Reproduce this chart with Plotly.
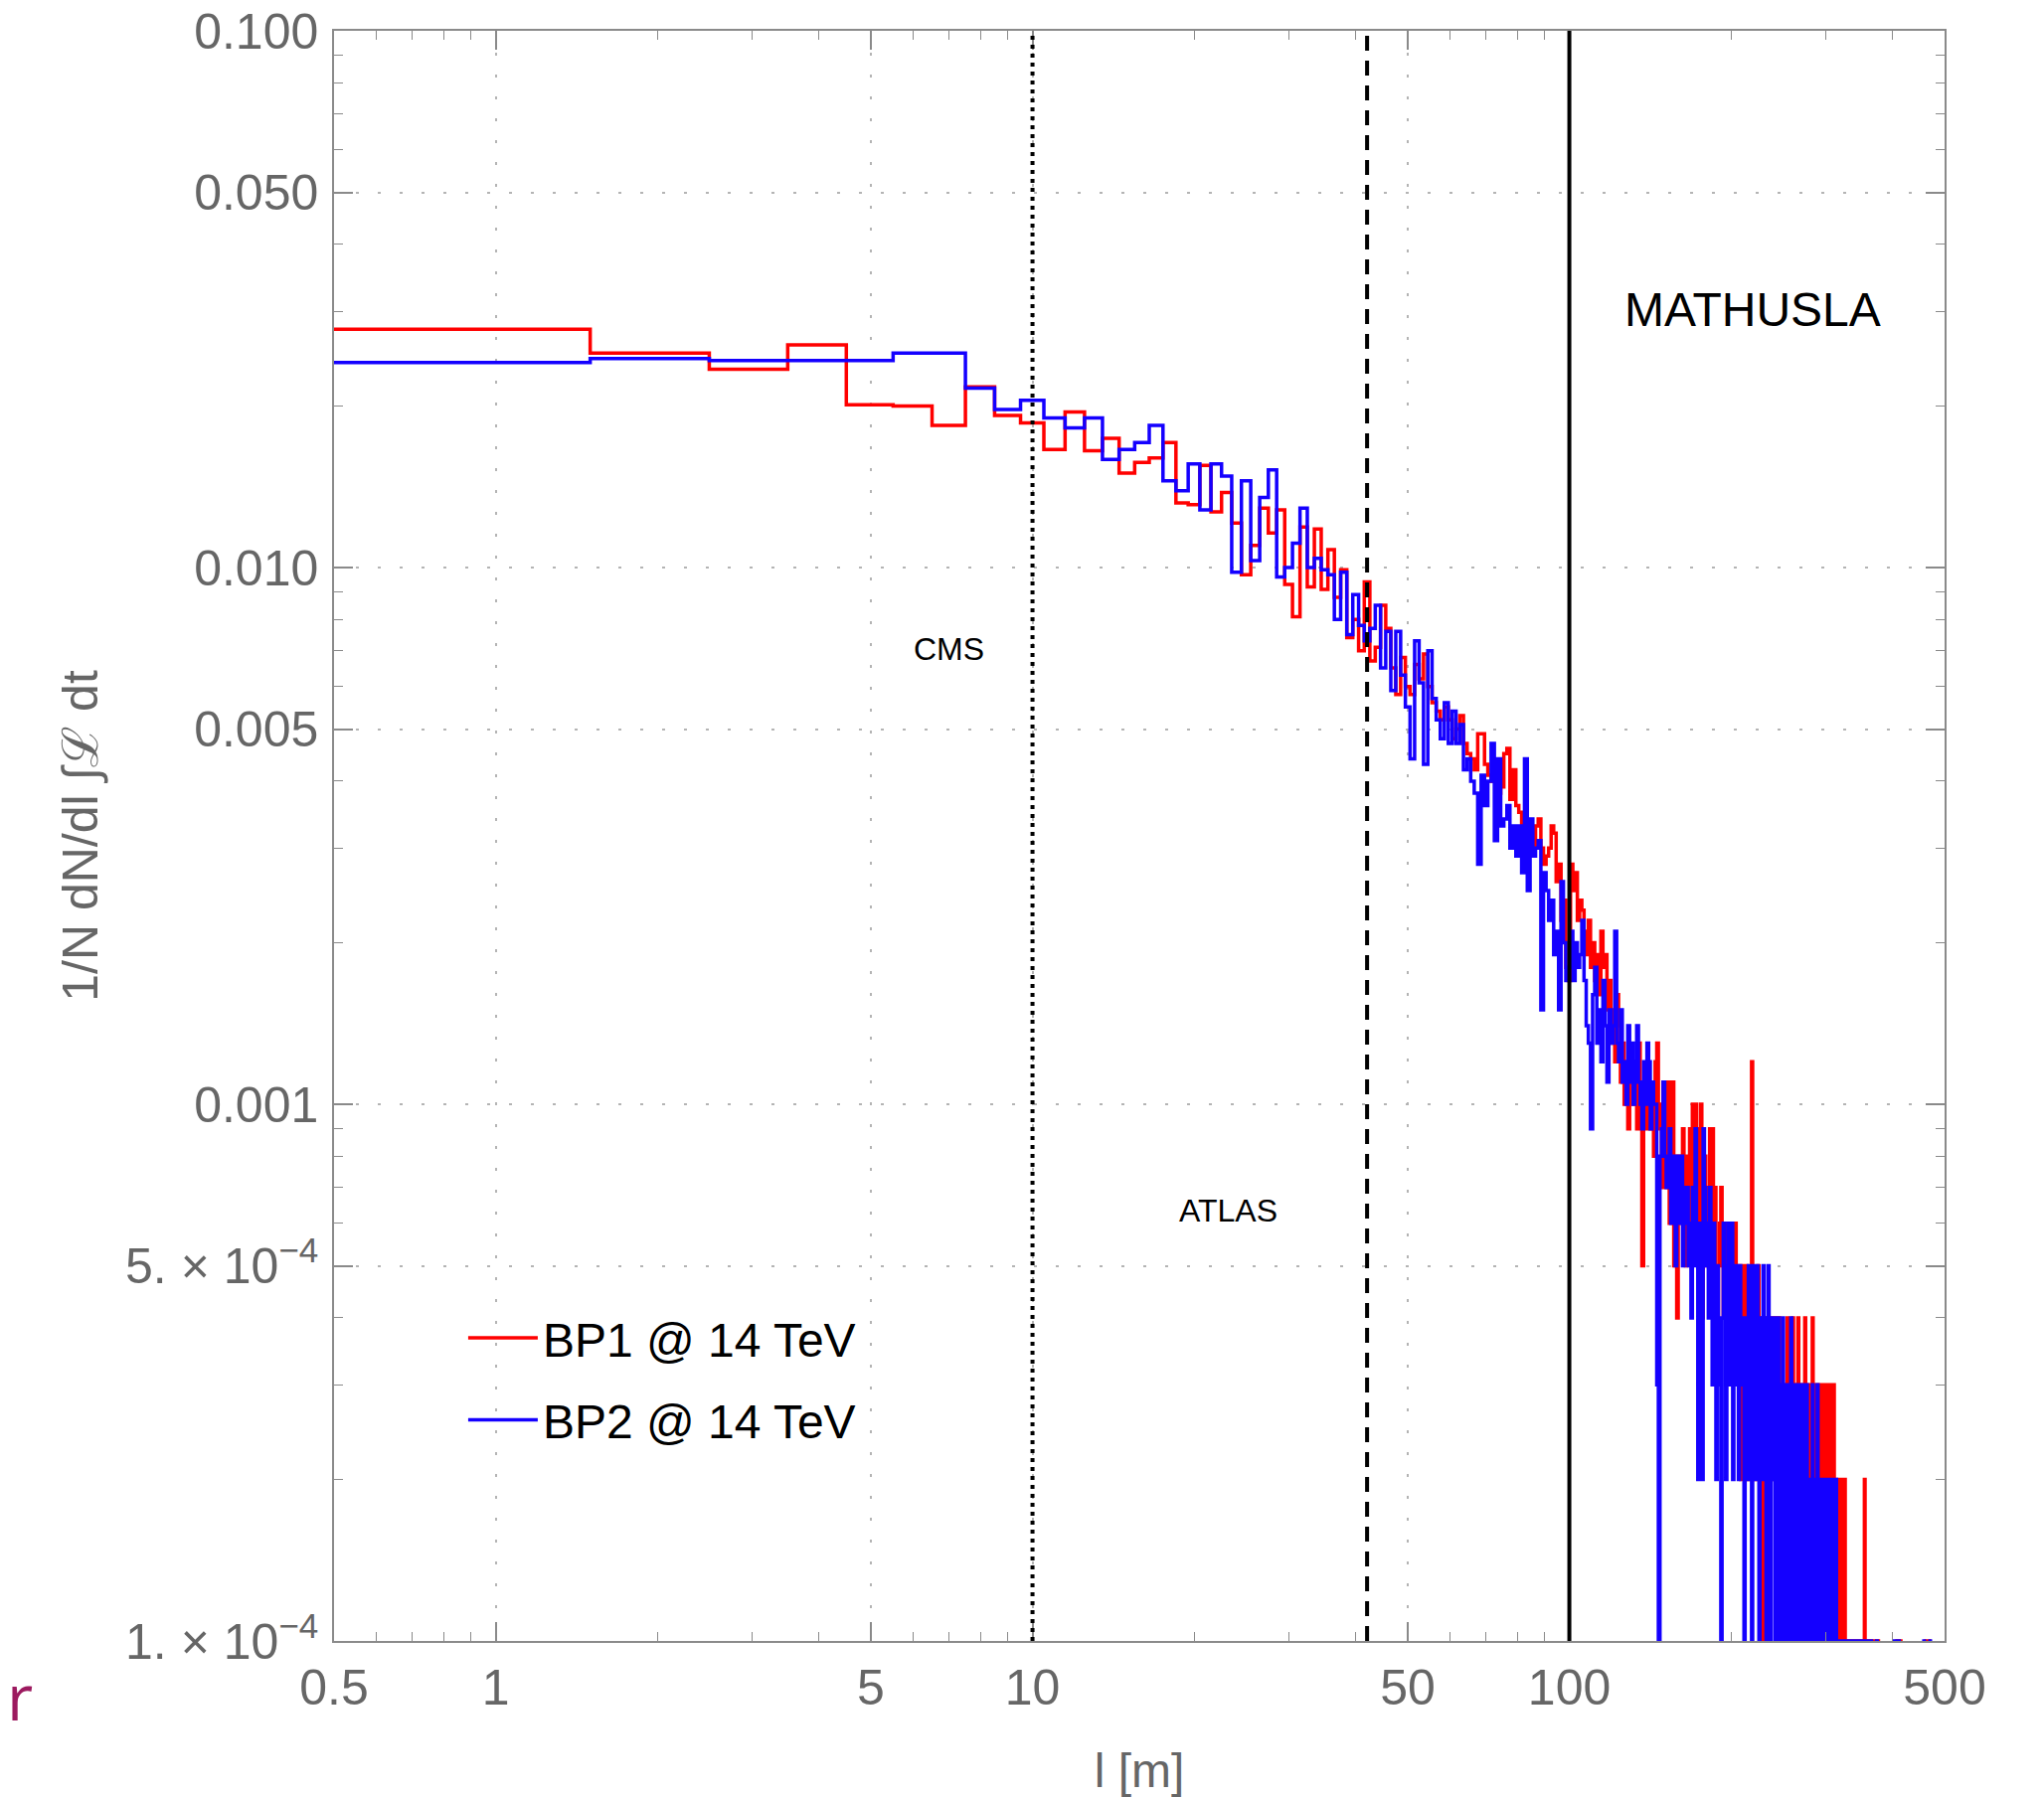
import math
import plotly.graph_objects as go

# ---------------- data ----------------
# Histogram of decay length l [m]; unit-width bins, first bin starts at 0.5 m.
BIN_START = 0.5
BIN_WIDTH = 1.0
NORM = 1e-4          # 1/N per event
FLOOR = 1e-7         # empty bins drop below the visible range

bp1_counts = [
    278, 251, 234, 260, 201, 200, 184, 217, 192, 186,
    166, 195, 165, 174, 150, 157, 160, 171, 132, 131,
    155, 127, 138, 121, 97, 110, 129, 116, 128, 93,
    81, 119, 92, 118, 91, 108, 88, 99, 74, 80,
    70, 94, 67, 71, 85, 77, 65, 58, 68, 60,
    58, 66, 62, 69, 60, 56, 54, 52, 55, 52,
    48, 50, 53, 47, 45, 44, 42, 49, 49, 43,
    41, 40, 42, 38, 39, 45, 46, 37, 42, 36,
    35, 33, 34, 31, 32, 30, 33, 34, 30, 28,
    29, 30, 33, 32, 26, 28, 22, 24, 18, 17,
    28, 25, 27, 22, 24, 23, 21, 19, 22, 18,
    20, 17, 19, 16, 21, 18, 19, 15, 17, 13,
    15, 12, 16, 14, 11, 13, 10, 12, 9, 11,
    12, 10, 11, 9, 13, 10, 5, 11, 9, 12,
    10, 9, 11, 8, 12, 13, 9, 10, 7, 11,
    9, 7, 11, 6, 10, 11, 5, 8, 4, 7,
    8, 6, 9, 7, 5, 8, 6, 9, 7, 10,
    6, 10, 8, 5, 9, 10, 4, 6, 8, 5,
    7, 6, 9, 5, 9, 6, 7, 5, 3, 5,
    6, 7, 5, 4, 6, 3, 5, 6, 4, 5,
    4, 5, 3, 6, 4, 5, 3, 4, 2, 5,
    3, 4, 2, 5, 3, 4, 2, 3, 12, 4,
    3, 2, 4, 3, 5, 2, 3, 4, 1, 3,
    2, 4, 3, 1, 4, 2, 3, 2, 4, 3,
    2, 4, 1, 3, 2, 4, 3, 1, 2, 3,
    2, 1, 3, 2, 4, 1, 2, 3, 2, 1,
    4, 2, 1, 3, 2, 1, 4, 2, 3, 1,
    2, 3, 1, 2, 4, 1, 2, 3, 2, 1,
    3, 2, 1, 4, 2, 3, 1, 2, 3, 1,
    2, 3, 1, 2, 3, 1, 2, 1, 3, 2,
    1, 2, 3, 1, 2, 1, 3, 2, 1, 2,
    3, 1, 1, 0, 2, 1, 1, 2, 1, 0,
    1, 2, 1, 1, 0, 2, 1, 1, 0, 1,
    1, 0, 1, 1, 0, 1, 1, 0, 1, 1,
    0, 1, 1, 0, 1, 1, 0, 1, 1, 0,
    1, 0, 1, 1, 2, 1, 0, 1, 0, 0,
    1, 0, 0, 1, 1, 0, 0, 1, 0, 0,
    0, 1, 0, 0, 0, 1, 0, 0, 0, 0,
    0, 0, 0, 0, 0, 0, 0, 0, 0, 0,
    0, 0, 0, 0, 0, 0, 0, 0, 0, 0,
    0, 0, 0, 0, 0, 0, 0, 1, 0, 0,
    0, 0, 0, 1, 0, 0, 0, 0, 0, 0,
    0, 0, 0, 0, 0, 0, 0, 0, 0, 0,
    0, 0, 0, 0, 0, 0, 0, 0, 0, 0,
    0, 0, 0, 0, 0, 0, 0, 0, 0, 0,
    0, 0, 0, 0, 0, 0, 0, 0, 0, 0,
    0, 1, 0, 0, 0, 0, 0, 1, 0, 0,
    0, 0, 0, 0, 0, 0, 0, 0, 0, 0,
]

bp2_counts = [
    241, 245, 243, 243, 243, 251, 251, 216, 197, 205,
    190, 182, 190, 159, 166, 171, 184, 145, 139, 156,
    128, 156, 148, 98, 145, 103, 135, 152, 96, 100,
    111, 129, 100, 104, 99, 97, 80, 98, 75, 89,
    78, 73, 77, 85, 65, 76, 59, 76, 63, 55,
    44, 73, 61, 43, 70, 57, 52, 48, 56, 47,
    54, 47, 51, 42, 44, 40, 38, 28, 41, 36,
    40, 47, 31, 44, 33, 34, 36, 30, 33, 29,
    33, 27, 44, 25, 34, 29, 30, 31, 15, 27,
    25, 22, 24, 19, 21, 15, 26, 20, 17, 18,
    21, 17, 20, 18, 19, 22, 17, 14, 13, 9,
    16, 18, 13, 15, 12, 17, 14, 11, 15, 13,
    14, 21, 13, 12, 15, 11, 12, 10, 14, 11,
    13, 10, 12, 14, 11, 10, 9, 12, 10, 13,
    12, 9, 11, 10, 10, 3, 0, 8, 9, 11,
    8, 7, 7, 9, 6, 8, 7, 5, 8, 7,
    6, 8, 5, 7, 6, 7, 5, 6, 4, 7,
    5, 9, 6, 2, 3, 6, 2, 9, 7, 5,
    6, 4, 7, 5, 3, 6, 4, 2, 5, 4,
    3, 0, 4, 6, 5, 2, 4, 6, 3, 5,
    6, 2, 4, 5, 3, 4, 2, 5, 4, 3,
    4, 1, 3, 4, 2, 5, 3, 4, 1, 5,
    3, 4, 2, 5, 3, 1, 4, 2, 3, 5,
    2, 4, 1, 3, 5, 2, 1, 4, 3, 2,
    4, 1, 3, 2, 4, 1, 2, 3, 1, 4,
    2, 3, 1, 2, 1, 3, 2, 1, 4, 2,
    1, 3, 2, 1, 2, 3, 1, 2, 1, 3,
    2, 1, 3, 1, 2, 1, 3, 1, 2, 1,
    1, 2, 1, 3, 1, 1, 2, 1, 1, 3,
    1, 1, 2, 1, 1, 2, 1, 1, 2, 1,
    1, 2, 1, 1, 1, 2, 1, 0, 1, 2,
    1, 1, 0, 2, 1, 1, 0, 1, 1, 0,
    1, 0, 1, 1, 0, 1, 1, 0, 1, 0,
    1, 1, 0, 1, 0, 1, 0, 1, 1, 0,
    1, 0, 1, 0, 1, 0, 1, 0, 0, 1,
    0, 1, 0, 1, 0, 0, 1, 0, 0, 0,
    1, 0, 0, 0, 1, 0, 0, 0, 0, 0,
    0, 0, 0, 1, 0, 0, 0, 0, 0, 0,
    0, 0, 0, 0, 0, 0, 0, 0, 0, 0,
    0, 0, 0, 0, 0, 0, 0, 0, 0, 0,
    0, 0, 0, 1, 0, 0, 0, 0, 0, 0,
    1, 0, 0, 0, 0, 0, 0, 0, 0, 0,
    0, 0, 0, 0, 0, 0, 0, 0, 0, 0,
    0, 0, 0, 0, 0, 0, 0, 0, 0, 0,
    0, 0, 0, 0, 0, 0, 0, 0, 0, 0,
    0, 0, 0, 0, 0, 0, 0, 1, 0, 0,
    0, 0, 0, 0, 0, 0, 0, 0, 0, 1,
    0, 0, 0, 0, 0, 0, 0, 0, 0, 0,
]

series_names = ["BP1 @ 14 TeV", "BP2 @ 14 TeV"]

x_tickvals = [0.5, 1, 5, 10, 50, 100, 500]
x_ticktext = ["0.5", "1", "5", "10", "50", "100", "500"]
x_minorvals = [0.6, 0.7, 0.8, 0.9, 2, 3, 4, 6, 7, 8, 9,
               20, 30, 40, 60, 70, 80, 90, 200, 300, 400]

y_tickvals = [1e-4, 5e-4, 1e-3, 5e-3, 1e-2, 5e-2, 1e-1]
y_ticktext = ["1. \u00d7 10<sup>\u22124</sup>", "5. \u00d7 10<sup>\u22124</sup>",
              "0.001", "0.005", "0.010", "0.050", "0.100"]
y_minorvals = [2e-4, 3e-4, 4e-4, 6e-4, 7e-4, 8e-4, 9e-4,
               2e-3, 3e-3, 4e-3, 6e-3, 7e-3, 8e-3, 9e-3,
               0.02, 0.03, 0.04, 0.06, 0.07, 0.08, 0.09]

detector_names = ["CMS", "ATLAS", "MATHUSLA"]
detector_l = [10, 42, 100]


# ---------------- helpers ----------------
def step_xy(counts):
    edges = [BIN_START + i * BIN_WIDTH for i in range(len(counts) + 1)]
    ys = [c * NORM if c > 0 else FLOOR for c in counts]
    return edges, ys + [ys[-1]]


FONT = "Liberation Sans, Arial, Helvetica, sans-serif"
GRAY = "#666666"
AXCOL = "#8a8a8a"

fig = go.Figure()
colors = ["#ff0000", "#1400ff"]
for name, counts, col, grp in zip(series_names, [bp1_counts, bp2_counts], colors, ["g1", "g2"]):
    xs, ys = step_xy(counts)
    fig.add_trace(go.Scatter(
        x=xs, y=ys, mode="lines", name=name, legendgroup=grp,
        line=dict(color=col, width=3.5, shape="hv"),
    ))

# detector boundary lines
dashes = ["4px,5px", "15px,10px", "solid"]
for xv, dsh in zip(detector_l, dashes):
    fig.add_shape(type="line", xref="x", yref="paper", x0=xv, x1=xv, y0=0, y1=1,
                  line=dict(color="black", width=4, dash=dsh), layer="above")

# detector labels
fig.add_annotation(x=math.log10(7.0), y=math.log10(0.00705), xref="x", yref="y",
                   text=detector_names[0], showarrow=False,
                   font=dict(size=32, color="black", family=FONT))
fig.add_annotation(x=math.log10(23.2), y=math.log10(6.35e-4), xref="x", yref="y",
                   text=detector_names[1], showarrow=False,
                   font=dict(size=32, color="black", family=FONT))
fig.add_annotation(x=math.log10(220), y=math.log10(0.0302), xref="x", yref="y",
                   text=detector_names[2], showarrow=False,
                   font=dict(size=48, color="black", family=FONT))

# stray slide text at bottom-left
fig.add_annotation(x=-0.1857, y=-0.034, xref="paper", yref="paper", xanchor="right",
                   yanchor="middle", text="er", showarrow=False,
                   font=dict(size=64, color="#9c1a5f", family="Open Sans, sans-serif"))

axis_common = dict(
    type="log", ticks="inside", ticklen=19, tickwidth=1.5, tickcolor=AXCOL,
    showline=True, linecolor=AXCOL, linewidth=1.5, mirror="allticks",
    showgrid=True, gridcolor="#b4b4b4", gridwidth=1.5, griddash="3px,19px",
    zeroline=False, automargin=False, ticklabeloverflow="allow",
    tickfont=dict(size=50, color=GRAY, family=FONT),
)

# page body has an 8px default margin, so the figure is 8px smaller
fig.update_layout(
    width=2048, height=1801,
    margin=dict(l=328, r=100, t=23, b=158, autoexpand=False),
    paper_bgcolor="white", plot_bgcolor="white",
    showlegend=True,
    legend=dict(x=0.0802, y=0.2115, xanchor="left", yanchor="top",
                font=dict(size=48, color="black", family=FONT),
                bgcolor="rgba(0,0,0,0)", tracegroupgap=17, itemwidth=70),
    xaxis=dict(
        **axis_common,
        range=[math.log10(0.5), math.log10(500)],
        tickmode="array", tickvals=x_tickvals, ticktext=x_ticktext,
        ticklabelstandoff=2,
        minor=dict(tickmode="array", tickvals=x_minorvals, ticks="inside", ticklen=9,
                   tickwidth=1.2, tickcolor=AXCOL, showgrid=False),
        title=dict(text="l [m]", font=dict(size=48, color=GRAY, family=FONT), standoff=40),
    ),
    yaxis=dict(
        **axis_common,
        range=[-4, -1],
        tickmode="array", tickvals=y_tickvals, ticktext=y_ticktext,
        ticklabelstandoff=4,
        minor=dict(tickmode="array", tickvals=y_minorvals, ticks="inside", ticklen=9,
                   tickwidth=1.2, tickcolor=AXCOL, showgrid=False),
        title=dict(text="1/N dN/dl \u222b\u2112 dt", font=dict(size=50, color=GRAY, family=FONT),
                   standoff=12),
    ),
)

fig.write_html("out.html")
